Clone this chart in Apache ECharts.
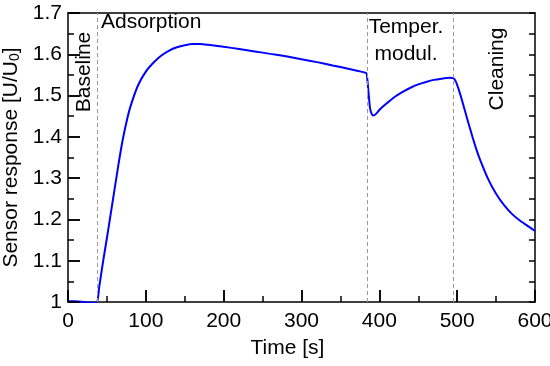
<!DOCTYPE html>
<html>
<head>
<meta charset="utf-8">
<script src="https://cdn.jsdelivr.net/npm/echarts@6/dist/echarts.min.js"></script>
<style>html,body{margin:0;padding:0;background:#fff}#c{width:550px;height:366px}</style>
</head>
<body>
<div id="c"></div>
<script>
var time = [0, 10, 20, 30, 37, 40, 45, 50, 55, 60, 65, 70, 75, 80, 90, 100, 110, 120, 130, 140, 150, 160, 170, 180, 200, 220, 240, 260, 280, 300, 320, 340, 360, 383,
  384, 386, 388, 390, 392, 394, 397, 400, 405, 410, 420, 430, 440, 450, 460, 470, 480, 490, 495,
  498, 502, 506, 510, 515, 520, 525, 530, 540, 550, 560, 570, 580, 590, 600];
var response = [1.002, 1.002, 1.000, 0.998, 0.997, 1.035, 1.097, 1.155, 1.215, 1.275, 1.335, 1.39, 1.435, 1.472, 1.525, 1.558, 1.580, 1.597, 1.609, 1.617, 1.622, 1.625, 1.625, 1.623, 1.618, 1.613, 1.607, 1.601, 1.595, 1.588, 1.581, 1.573, 1.565, 1.555,
  1.550, 1.51, 1.47, 1.456, 1.452, 1.453, 1.458, 1.465, 1.474, 1.482, 1.497, 1.509, 1.519, 1.527, 1.533, 1.538, 1.541, 1.543, 1.542,
  1.535, 1.515, 1.49, 1.463, 1.43, 1.398, 1.368, 1.342, 1.297, 1.262, 1.235, 1.214, 1.198, 1.185, 1.172];
var phaseBounds = [37, 384, 495];
var phaseLabels = ['Baseline', 'Adsorption', 'Temper.\nmodul.', 'Cleaning'];
var xTicks = [0, 100, 200, 300, 400, 500, 600];
var yTicks = [1, 1.1, 1.2, 1.3, 1.4, 1.5, 1.6, 1.7];

var FONT = '"Liberation Sans", Arial, sans-serif';
var W = 550, H = 366;
var G = {left: 68, right: 15, top: 13, bottom: 64};
var chart = echarts.init(document.getElementById('c'), null, {renderer: 'canvas', width: W, height: H});
var pts = time.map(function (t, i) { return [t, response[i]]; });
var axStyle = {color: '#000', width: 1.5};
var X0 = xTicks[0], X1 = xTicks[xTicks.length - 1], Y0 = yTicks[0], Y1 = yTicks[yTicks.length - 1];
// data units per pixel, used only to give the axis ticks a fixed on-screen length
var ux = (X1 - X0) / (W - G.left - G.right);
var uy = (Y1 - Y0) / (H - G.top - G.bottom);
var tickLine = {type: 'solid', color: '#000', width: 1.5};

var marks = phaseBounds.map(function (b) { return {xAxis: b}; });
function seg(x1, y1, x2, y2) { marks.push([{coord: [x1, y1], lineStyle: tickLine}, {coord: [x2, y2]}]); }
xTicks.forEach(function (v, i) {
  seg(v, Y0, v, Y0 + 12 * uy);
  if (i < xTicks.length - 1) { var m = (v + xTicks[i + 1]) / 2; seg(m, Y0, m, Y0 + 6 * uy); }
});
yTicks.forEach(function (v, i) {
  seg(X0, v, X0 + 12 * ux, v);
  seg(X1, v, X1 - 6 * ux, v);
  if (i < yTicks.length - 1) {
    var m = (v + yTicks[i + 1]) / 2;
    seg(X0, m, X0 + 6 * ux, m);
    seg(X1, m, X1 - 6 * ux, m);
  }
});

chart.setOption({
  animation: false,
  backgroundColor: '#fff',
  grid: {left: G.left, right: G.right, top: G.top, bottom: G.bottom, containLabel: false, outerBoundsMode: 'none'},
  xAxis: [{
    type: 'value', min: X0, max: X1, interval: 100,
    name: 'Time [s]', nameLocation: 'middle', nameGap: 36,
    nameTextStyle: {fontFamily: FONT, fontSize: 21, color: '#000', padding: [0, 28, 0, 0]},
    axisLine: {show: true, onZero: false, lineStyle: axStyle},
    axisTick: {show: true, inside: true, length: 12, lineStyle: axStyle},
    axisLabel: {show: true, fontFamily: FONT, fontSize: 21, color: '#000', margin: 9, hideOverlap: false},
    splitLine: {show: false}
  }, {
    type: 'value', min: X0, max: X1, interval: 100, position: 'top',
    axisLine: {show: true, onZero: false, lineStyle: axStyle},
    axisTick: {show: false}, axisLabel: {show: false}, splitLine: {show: false}
  }],
  yAxis: [{
    type: 'value', min: Y0, max: Y1, interval: 0.1,
    name: 'Sensor response [U/U{sub|0}]', nameLocation: 'middle', nameGap: 46,
    nameTextStyle: {fontFamily: FONT, fontSize: 21, color: '#000',
      rich: {sub: {fontFamily: FONT, fontSize: 14, color: '#000', verticalAlign: 'bottom', padding: [8, 0, 0, 0]}}},
    axisLine: {show: true, onZero: false, lineStyle: axStyle},
    axisTick: {show: true, inside: true, length: 12, lineStyle: axStyle},
    axisLabel: {show: true, fontFamily: FONT, fontSize: 21, color: '#000', margin: 6, hideOverlap: false,
      formatter: function (v) { return String(+v.toFixed(2)); }},
    splitLine: {show: false}
  }, {
    type: 'value', min: Y0, max: Y1, interval: 0.1, position: 'right',
    axisLine: {show: true, onZero: false, lineStyle: axStyle},
    axisTick: {show: false}, axisLabel: {show: false}, splitLine: {show: false}
  }],
  series: [{
    type: 'line', data: pts, showSymbol: false, smooth: 0.2,
    lineStyle: {color: '#0000ff', width: 2},
    z: 3,
    markLine: {
      silent: true, symbol: 'none', label: {show: false}, animation: false,
      lineStyle: {color: '#999', type: [4, 3], width: 1},
      data: marks
    }
  }],
  graphic: [
    {type: 'text', x: 84, y: 72, rotation: Math.PI / 2, style: {text: phaseLabels[0], font: '21px ' + FONT, fill: '#000', align: 'center', verticalAlign: 'middle'}},
    {type: 'text', left: 101, top: 12, style: {text: phaseLabels[1], font: '21px ' + FONT, fill: '#000'}},
    {type: 'text', x: 406, y: 41, style: {text: phaseLabels[2], font: '21px ' + FONT, fill: '#000', align: 'center', verticalAlign: 'middle', lineHeight: 27}},
    {type: 'text', x: 497, y: 69, rotation: Math.PI / 2, style: {text: phaseLabels[3], font: '21px ' + FONT, fill: '#000', align: 'center', verticalAlign: 'middle'}}
  ]
});
</script>
</body>
</html>
